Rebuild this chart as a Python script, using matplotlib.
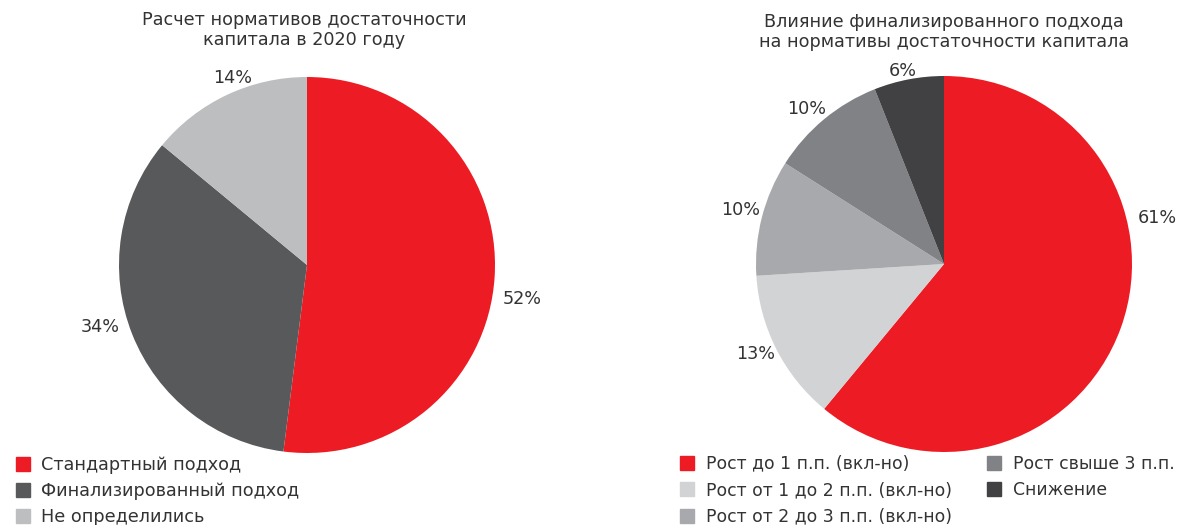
import matplotlib
matplotlib.use("Agg")
import matplotlib.pyplot as plt
from matplotlib.lines import Line2D
import numpy as np

plt.rcParams['font.family'] = ['DejaVu Sans']

# Data
left_title = "Расчет нормативов достаточности\nкапитала в 2020 году"
left_labels = ["Стандартный подход", "Финализированный подход", "Не определились"]
left_values = [52, 34, 14]
left_colors = ["#ED1C24", "#58595B", "#BCBEC0"]

right_title = "Влияние финализированного подхода\nна нормативы достаточности капитала"
right_labels = ["Рост до 1 п.п. (вкл-но)", "Рост от 1 до 2 п.п. (вкл-но)",
                "Рост от 2 до 3 п.п. (вкл-но)", "Рост свыше 3 п.п.", "Снижение"]
right_values = [61, 13, 10, 10, 6]
right_colors = ["#ED1C24", "#D1D3D4", "#A7A9AC", "#808285", "#414042"]

W, H = 1181, 525
fig = plt.figure(figsize=(W / 100, H / 100), dpi=100)
TXT = "#333333"
FS = 12.7


def pie_axes(cx, cy, r):
    ax = fig.add_axes([(cx - r) / W, (H - cy - r) / H, 2 * r / W, 2 * r / H])
    return ax


def draw_pie(ax, values, colors, label_r, label_dang):
    wedges, _ = ax.pie(values, colors=colors, startangle=90, counterclock=False,
                       radius=1.0, wedgeprops=dict(linewidth=0))
    ax.set_xlim(-1, 1)
    ax.set_ylim(-1, 1)
    ax.set_aspect('equal')
    ax.axis('off')
    for w, v, rr, da in zip(wedges, values, label_r, label_dang):
        ang = np.deg2rad((w.theta1 + w.theta2) / 2 + da)
        ax.text(rr * np.cos(ang), rr * np.sin(ang), f"{v}%", ha='center', va='center',
                fontsize=FS, color=TXT)
    return wedges


axL = pie_axes(307, 265, 188)
draw_pie(axL, left_values, left_colors, [1.16, 1.15, 1.07], [-5.5, -5, -3.5])
axR = pie_axes(944, 264, 188)
draw_pie(axR, right_values, right_colors, [1.16, 1.11, 1.12, 1.10, 1.05], [32, -1.5, -0.5, 2, 1.2])

fig.text(304 / W, 1 - 30 / H, left_title, ha='center', va='center', fontsize=FS,
         color=TXT, linespacing=1.15)
fig.text(944 / W, 1 - 32 / H, right_title, ha='center', va='center', fontsize=FS,
         color=TXT, linespacing=1.15)


def handles(colors):
    return [Line2D([0], [0], marker='s', linestyle='none', markersize=10,
                   markerfacecolor=c, markeredgecolor=c) for c in colors]


legL = fig.legend(handles(left_colors), left_labels, loc='upper left',
                  bbox_to_anchor=(5 / W, 1 - 447 / H), frameon=False, fontsize=FS,
                  handlelength=1.0, handletextpad=0.55, labelspacing=0.45,
                  borderpad=0, labelcolor=TXT)
legR = fig.legend(handles(right_colors), right_labels, loc='upper left', ncol=2,
                  bbox_to_anchor=(670 / W, 1 - 446 / H), frameon=False, fontsize=12.4,
                  handlelength=1.0, handletextpad=0.6, labelspacing=0.5,
                  columnspacing=1.95, borderpad=0, labelcolor=TXT)

fig.savefig("out.png", dpi=100)
